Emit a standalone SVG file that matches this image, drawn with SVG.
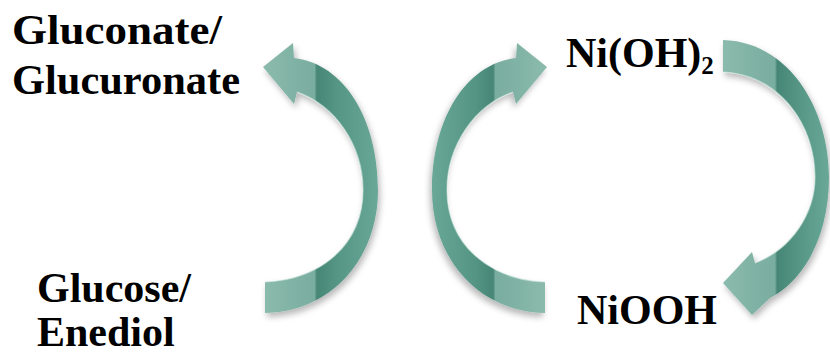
<svg xmlns="http://www.w3.org/2000/svg" width="830" height="356" viewBox="0 0 830 356">
  <style>
    .lbl { font-family: "Liberation Serif", "Times New Roman", serif; font-weight: bold; font-size: 42px; fill: #000; }
    .sub { font-size: 25px; }
    .arrow { filter: url(#shadow); }
    .hl { fill: none; stroke: #d8ece6; stroke-opacity: 0.6; stroke-width: 1.2; }
  </style>
  <defs>
    <filter id="shadow" x="-20%" y="-20%" width="140%" height="140%">
      <feDropShadow dx="2" dy="4" stdDeviation="3" flood-color="#000" flood-opacity="0.28"/>
    </filter>
    <linearGradient id="gL" gradientUnits="userSpaceOnUse" x1="263" y1="0" x2="380" y2="0">
      <stop offset="0" stop-color="#8bbbad"/>
      <stop offset="0.44" stop-color="#79ad9f"/>
      <stop offset="0.46" stop-color="#468676"/>
      <stop offset="0.62" stop-color="#559584"/>
      <stop offset="1" stop-color="#6aa898"/>
    </linearGradient>
    <linearGradient id="gR" gradientUnits="userSpaceOnUse" x1="722" y1="0" x2="830" y2="0">
      <stop offset="0" stop-color="#8bbbad"/>
      <stop offset="0.49" stop-color="#79ad9f"/>
      <stop offset="0.51" stop-color="#468676"/>
      <stop offset="0.7" stop-color="#559584"/>
      <stop offset="1" stop-color="#6aa898"/>
    </linearGradient>
  </defs>
  <rect width="830" height="356" fill="#fff"/>

  <g id="connectors">
    <g id="arrow-left" class="arrow">
      <path fill="url(#gL)" d="M265,313 C330,312 378,260 378,190 C378,120 345,64 294,58 L293,43 L263,67 L294,104 L297,92 C335,105 363,145 363,190 C363,245 320,280 265,282 Z"/>
      <path class="hl" d="M297,92 C335,105 363,145 363,190 C363,245 320,280 265,282"/>
    </g>
    <g id="arrow-middle" class="arrow" transform="translate(810,0) scale(-1,1)">
      <path fill="url(#gL)" d="M265,313 C330,312 378,260 378,190 C378,120 345,64 294,58 L293,43 L263,67 L294,104 L297,92 C335,105 363,145 363,190 C363,245 320,280 265,282 Z"/>
      <path class="hl" d="M297,92 C335,105 363,145 363,190 C363,245 320,280 265,282"/>
    </g>
    <g id="arrow-right" class="arrow">
      <path fill="url(#gR)" d="M723,40 C790,42 829,110 829,177 C829,235 805,280 770,298 L752,315 L723,283 L752,252 L755,263 C790,250 815,215 815,177 C815,125 780,75 723,72 Z"/>
      <path class="hl" d="M755,263 C790,250 815,215 815,177 C815,125 780,75 723,72"/>
    </g>
  </g>

  <g id="node-gluconate">
    <text class="lbl" x="12" y="44" textLength="210" lengthAdjust="spacingAndGlyphs">Gluconate/</text>
    <text class="lbl" x="12" y="94" textLength="228" lengthAdjust="spacingAndGlyphs">Glucuronate</text>
  </g>
  <g id="node-glucose">
    <text class="lbl" x="37" y="302">Glucose/</text>
    <text class="lbl" x="37" y="346">Enediol</text>
  </g>
  <g id="node-nioh2">
    <text class="lbl" x="566" y="67">Ni(OH)<tspan class="sub" dy="7">2</tspan></text>
  </g>
  <g id="node-niooh">
    <text class="lbl" x="577" y="324">NiOOH</text>
  </g>
</svg>
